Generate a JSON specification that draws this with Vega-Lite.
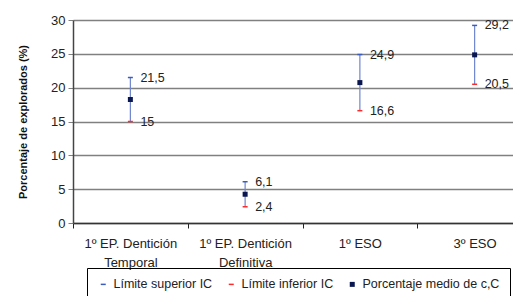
{
  "$schema": "https://vega.github.io/schema/vega-lite/v6.json",
  "width": 459,
  "height": 203,
  "autosize": {"type": "none"},
  "padding": {"left": 73, "top": 20, "right": 0, "bottom": 73},
  "background": "white",
  "config": {
    "locale": {"number": {"decimal": ",", "thousands": ".", "grouping": [3], "currency": ["", " €"]}},
    "view": {"stroke": null},
    "font": "Liberation Sans",
    "axisY": {
      "titleFontWeight": "bold",
      "titleFontSize": 11,
      "titleColor": "#111",
      "titlePadding": 22,
      "grid": true,
      "gridColor": "#808080",
      "gridWidth": 1.5,
      "domainColor": "#444",
      "domainWidth": 1.5,
      "tickColor": "#808080",
      "tickSize": 5,
      "labelFontSize": 13,
      "labelColor": "#222",
      "labelPadding": 3
    },
    "legend": {
      "orient": "none",
      "legendX": 14,
      "legendY": 248,
      "direction": "horizontal",
      "strokeColor": "#000",
      "padding": 10,
      "labelFontSize": 12.5,
      "labelColor": "#222",
      "columnPadding": 12,
      "labelOffset": 4
    }
  },
  "data": {
    "values": [
      {"categoria": "1º EP. Dentición Temporal", "Límite superior IC": 21.5, "Límite inferior IC": 15, "Porcentaje medio de c,C": 18.25},
      {"categoria": "1º EP. Dentición Definitiva", "Límite superior IC": 6.1, "Límite inferior IC": 2.4, "Porcentaje medio de c,C": 4.25},
      {"categoria": "1º ESO", "Límite superior IC": 24.9, "Límite inferior IC": 16.6, "Porcentaje medio de c,C": 20.75},
      {"categoria": "3º ESO", "Límite superior IC": 29.2, "Límite inferior IC": 20.5, "Porcentaje medio de c,C": 24.85}
    ]
  },
  "encoding": {
    "x": {
      "field": "categoria",
      "type": "nominal",
      "sort": null,
      "scale": {"paddingInner": 0, "paddingOuter": 0},
      "axis": {
        "title": null,
        "labelAngle": 0,
        "labelFontSize": 13,
        "labelColor": "#222",
        "labelPadding": 9,
        "labelLineHeight": 19,
        "tickBand": "extent",
        "tickSize": 5,
        "tickColor": "#222",
        "domainColor": "#333",
        "domainWidth": 1.5,
        "labelExpr": "indexof(datum.label, 'Dentición') >= 0 ? [slice(datum.label, 0, indexof(datum.label, 'Dentición') + 9), slice(datum.label, indexof(datum.label, 'Dentición') + 10)] : datum.label"
      }
    }
  },
  "layer": [
    {
      "mark": {"type": "rule", "color": "#6f86d0", "strokeWidth": 1.2},
      "encoding": {
        "y": {
          "field": "Límite inferior IC",
          "type": "quantitative",
          "scale": {"domain": [0, 30]},
          "axis": {"title": "Porcentaje de explorados (%)", "values": [0, 5, 10, 15, 20, 25, 30]}
        },
        "y2": {"field": "Límite superior IC"}
      }
    },
    {
      "transform": [{"fold": ["Límite superior IC", "Límite inferior IC", "Porcentaje medio de c,C"], "as": ["serie", "valor"]}],
      "mark": {"type": "point", "filled": true, "opacity": 1, "strokeWidth": 0},
      "encoding": {
        "y": {"field": "valor", "type": "quantitative", "axis": {"title": "Porcentaje de explorados (%)", "values": [0, 5, 10, 15, 20, 25, 30]}},
        "color": {
          "field": "serie",
          "type": "nominal",
          "title": null,
          "scale": {"domain": ["Límite superior IC", "Límite inferior IC", "Porcentaje medio de c,C"], "range": ["#3a5bbf", "#ff2a2a", "#0a1650"]}
        },
        "shape": {
          "field": "serie",
          "type": "nominal",
          "title": null,
          "scale": {"domain": ["Límite superior IC", "Límite inferior IC", "Porcentaje medio de c,C"], "range": ["M-1,-0.3L1,-0.3L1,0.3L-1,0.3Z", "M-1,-0.3L1,-0.3L1,0.3L-1,0.3Z", "square"]}
        },
        "size": {
          "field": "serie",
          "type": "nominal",
          "title": null,
          "scale": {"domain": ["Límite superior IC", "Límite inferior IC", "Porcentaje medio de c,C"], "range": [25, 25, 12]}
        }
      }
    },
    {
      "mark": {"type": "text", "align": "left", "baseline": "middle", "dx": 10, "fontSize": 12.5, "color": "#222"},
      "encoding": {
        "y": {"field": "Límite superior IC", "type": "quantitative", "axis": {"title": "Porcentaje de explorados (%)", "values": [0, 5, 10, 15, 20, 25, 30]}},
        "text": {"field": "Límite superior IC", "type": "quantitative", "format": ".3~g"}
      }
    },
    {
      "mark": {"type": "text", "align": "left", "baseline": "middle", "dx": 10, "fontSize": 12.5, "color": "#222"},
      "encoding": {
        "y": {"field": "Límite inferior IC", "type": "quantitative", "axis": {"title": "Porcentaje de explorados (%)", "values": [0, 5, 10, 15, 20, 25, 30]}},
        "text": {"field": "Límite inferior IC", "type": "quantitative", "format": ".3~g"}
      }
    }
  ]
}
